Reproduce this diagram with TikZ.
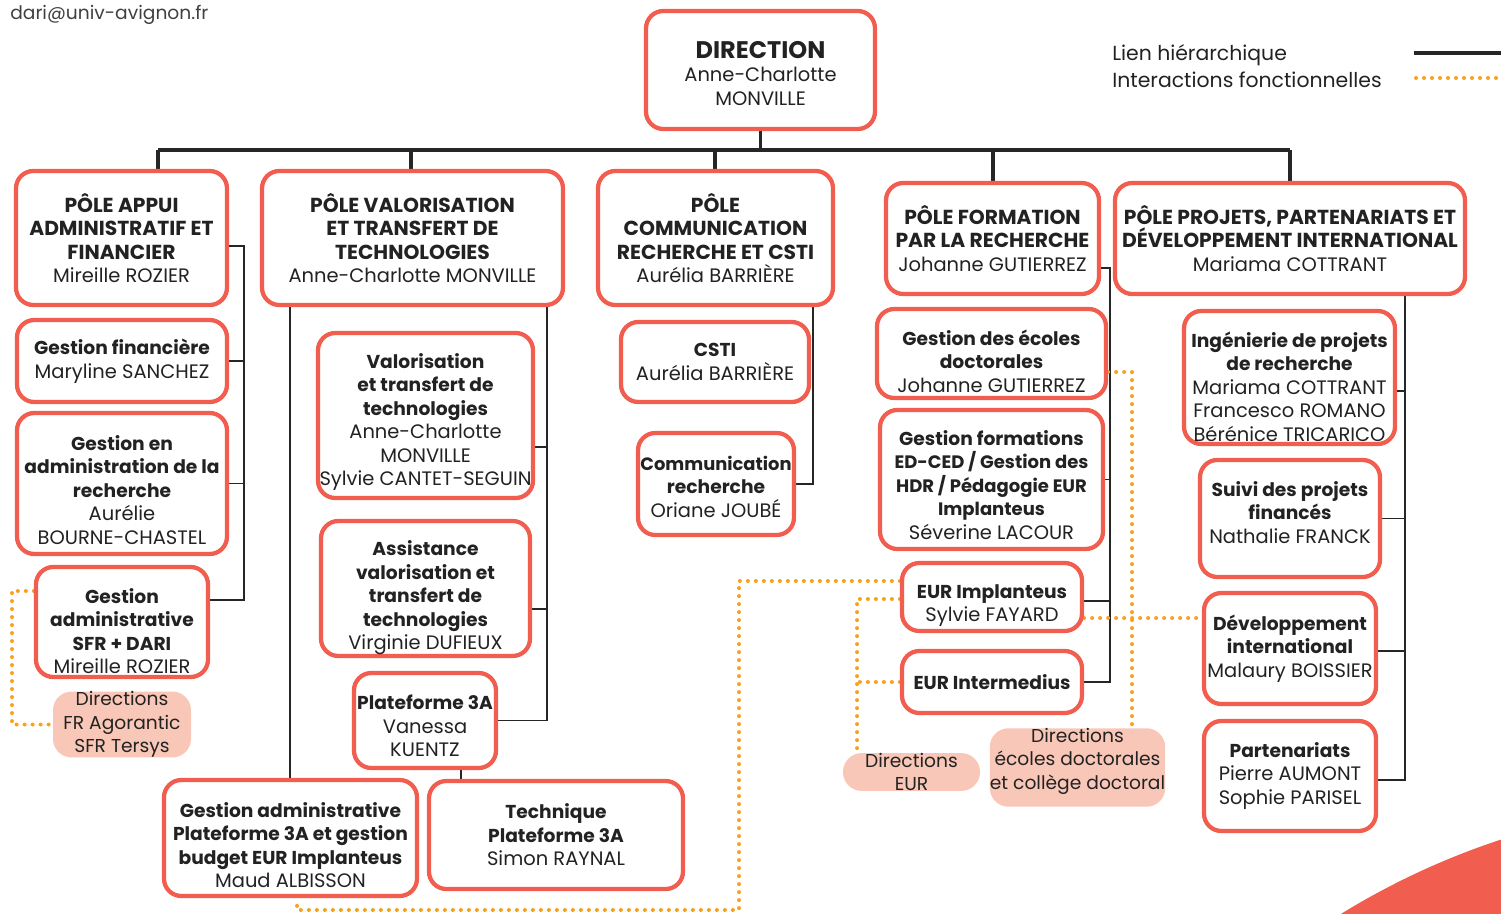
\documentclass[tikz,border=0pt]{standalone}
\usepackage{fontspec}
\setmainfont{Poppins}
\definecolor{bred}{RGB}{241,93,79}
\definecolor{bpink}{RGB}{249,199,183}
\definecolor{orng}{RGB}{249,161,27}
\definecolor{txt}{RGB}{34,34,34}
\definecolor{lk}{RGB}{38,38,38}
\pgfdeclarelayer{bg}
\pgfsetlayers{bg,main}
\newcommand\B[1]{{\fontsize{14}{17.6}\selectfont\bfseries #1}}
\newcommand\T[1]{{\fontsize{15.2}{17.6}\selectfont\bfseries #1}}
\newcommand\Sm[1]{{\fontsize{13.5}{16}\selectfont\bfseries #1}}
\newcommand\dn[1]{\rule{0pt}{#1pt}}
\newcommand\up[1]{\rule[-#1pt]{0pt}{0pt}}
\tikzset{
  box/.style={draw=bred, line width=3.2pt, rounded corners=13pt, fill=white, inner sep=0pt,
    align=center, text=txt, font=\fontsize{14.6}{17.6}\selectfont},
  pill/.style={fill=bpink, rounded corners=14pt, inner sep=0pt,
    align=center, text=txt, font=\fontsize{14}{17.6}\selectfont},
  plain/.style={inner sep=0pt, text=txt, font=\fontsize{15.3}{17.6}\selectfont},
  hier/.style={draw=lk, line width=1.4pt},
  bus/.style={draw=lk, line width=2.6pt},
  func/.style={draw=orng, line width=3pt, line cap=round, dash pattern=on 0pt off 6pt},
}
\newcommand\bx[6]{\node[box, minimum width={(#4-#2-4)*0.75pt}, minimum height={(#5-#3-4)*0.75pt}]
  (#1) at ({(#2+#4)/2},{(#3+#5)/2}) {#6};}
\newcommand\pl[6]{\node[pill, minimum width={(#4-#2)*0.75pt}, minimum height={(#5-#3)*0.75pt}]
  (#1) at ({(#2+#4)/2},{(#3+#5)/2}) {#6};}
\begin{document}
\begin{tikzpicture}[x=0.75pt,y=-0.75pt]
\useasboundingbox (0,0) rectangle (1501,913);
\begin{scope}
  \clip (0,0) rectangle (1501,913);
  \fill[bred] (1737,1558) circle [radius=756];
\end{scope}

% header texts
\node[plain, anchor=west, text=black!75, font=\fontsize{14}{17}\selectfont] (mail) at (10,15) {dari@univ-avignon.fr};
\node[plain, anchor=west] (lg1) at (1112,55) {Lien hiérarchique};
\node[plain, anchor=west] (lg2) at (1112,80) {Interactions fonctionnelles};
\coordinate (la1) at (1414,53); \coordinate (lb1) at (1501,53);
\coordinate (la2) at (1416,78); \coordinate (lb2) at (1501,78);

% boxes
\bx{dir}{644}{9}{877}{131}{\dn{18}{\fontsize{18}{18}\selectfont\bfseries DIRECTION}\\Anne-Charlotte\\MONVILLE}
\bx{p1}{14}{169}{229}{307}{\T{PÔLE APPUI}\\\T{ADMINISTRATIF ET}\\\T{FINANCIER}\\Mireille ROZIER}
\bx{p2}{260}{169}{565}{307}{\T{PÔLE VALORISATION}\\\T{ET TRANSFERT DE}\\\T{TECHNOLOGIES}\\Anne-Charlotte MONVILLE}
\bx{p3}{596}{169}{835}{307}{\T{PÔLE}\\\T{COMMUNICATION}\\\T{RECHERCHE ET CSTI}\\Aurélia BARRIÈRE}
\bx{p4}{884}{181}{1101}{296}{\T{PÔLE FORMATION}\\\T{PAR LA RECHERCHE}\\Johanne GUTIERREZ}
\bx{p5}{1113}{181}{1467}{296}{\T{PÔLE PROJETS, PARTENARIATS ET}\\\T{DÉVELOPPEMENT INTERNATIONAL}\\Mariama COTTRANT}

\bx{gf}{15}{318}{229}{404}{\B{Gestion financière}\\Maryline SANCHEZ}
\bx{gar}{15}{411}{229}{556}{\dn{21}\B{Gestion en}\\\B{administration de la}\\\B{recherche}\\Aurélie\\BOURNE-CHASTEL}
\bx{sfr}{34}{565}{210}{679}{\dn{25}\B{Gestion}\\\B{administrative}\\\B{SFR + DARI}\\Mireille ROZIER}
\pl{pa}{53}{692}{191}{757}{Directions\\FR Agorantic\\SFR Tersys}

\bx{val}{316}{331}{535}{500}{\dn{21}\B{Valorisation}\\\B{et transfert de}\\\B{technologies}\\Anne-Charlotte\\MONVILLE\\Sylvie CANTET-SEGUIN}
\bx{asv}{319}{519}{532}{658}{\dn{25}\B{Assistance}\\\B{valorisation et}\\\B{transfert de}\\\B{technologies}\\Virginie DUFIEUX}
\bx{pf}{352}{671}{498}{770}{\dn{19}\B{Plateforme 3A}\\Vanessa\\KUENTZ}
\bx{gap}{162}{778}{419}{898}{\dn{22}\B{Gestion administrative}\\\B{Plateforme 3A et gestion}\\\B{budget EUR Implanteus}\\Maud ALBISSON}
\bx{tech}{427}{779}{685}{891}{\B{Technique}\\\B{Plateforme 3A}\\Simon RAYNAL}

\bx{csti}{619}{320}{811}{404}{\B{CSTI}\\Aurélia BARRIÈRE}
\bx{cr}{636}{431}{796}{537}{\dn{15}{\fontsize{13.4}{17.6}\selectfont\bfseries Communication}\\\B{recherche}\\Oriane JOUBÉ}

\bx{ged}{875}{307}{1108}{400}{\dn{23}\B{Gestion des écoles}\\\B{doctorales}\\Johanne GUTIERREZ}
\bx{gfo}{878}{408}{1105}{551}{\dn{19}\B{Gestion formations}\\\Sm{ED-CED / Gestion des}\\\Sm{HDR / Pédagogie EUR}\\\Sm{Implanteus}\\Séverine LACOUR}
\bx{eimp}{900}{561}{1084}{633}{\dn{23}\B{EUR Implanteus}\\Sylvie FAYARD}
\bx{eint}{900}{649}{1084}{715}{\B{EUR Intermedius}}
\pl{pe}{843}{754}{980}{790}{Directions\\EUR}
\pl{pd}{990}{729}{1165}{806}{Directions\\écoles doctorales\\et collège doctoral\up{13}}

\bx{ing}{1182}{309}{1397}{446}{\dn{25}\B{Ingénierie de projets}\\\B{de recherche}\\Mariama COTTRANT\\Francesco ROMANO\\Bérénice TRICARICO}
\bx{suivi}{1198}{458}{1382}{579}{\B{Suivi des projets}\\\B{financés}\\Nathalie FRANCK\up{9}}
\bx{dev}{1202}{591}{1378}{706}{\B{Développement}\\\B{international}\\Malaury BOISSIER}
\bx{par}{1202}{719}{1378}{833}{\B{Partenariats}\\Pierre AUMONT\\Sophie PARISEL}

% connectors
\coordinate (b1) at (158,150); \coordinate (b2) at (411,150); \coordinate (b3) at (715,150);
\coordinate (b4) at (993,150); \coordinate (b5) at (1290,150);
\coordinate (c1) at (244,0); \coordinate (c2l) at (290,0); \coordinate (c2r) at (547,0);
\coordinate (c3) at (813,0); \coordinate (c4) at (1110,0); \coordinate (c5) at (1405,0);
\begin{pgfonlayer}{bg}
\draw[bus] (la1) -- (lb1);
\draw[func] (la2) -- (lb2);
\draw[bus] (dir.south) -- (dir.south |- b1);
\draw[bus] (b1) -- (b5);
\draw[bus] (b1) -- (p1.north -| b1);
\draw[bus] (b2) -- (p2.north -| b2);
\draw[bus] (b3) -- (p3.north -| b3);
\draw[bus] (b4) -- (p4.north -| b4);
\draw[bus] (b5) -- (p5.north -| b5);
% column 1
\draw[hier] (p1.east |- 0,246) -| (c1 |- 0,600) -- (sfr.east |- 0,600);
\draw[hier] (gf.east) -- (gf.east -| c1);
\draw[hier] (gar.east) -- (gar.east -| c1);
% column 2
\draw[hier] (p2.south -| c2l) -- (gap.north -| c2l);
\draw[hier] (p2.south -| c2r) |- (pf.east);
\draw[hier] (val.east |- 0,447) -- (c2r |- 0,447);
\draw[hier] (asv.east |- 0,609) -- (c2r |- 0,609);
\draw[hier] (pf.south -| 461,0) -- (tech.north -| 461,0);
% column 3
\draw[hier] (p3.south -| c3) |- (cr.east);
% column 4
\draw[hier] (p4.east |- 0,268) -| (eint.east -| c4) -- (eint.east);
\draw[hier] (gfo.east) -- (gfo.east -| c4);
\draw[hier] (eimp.east |- 0,601) -- (c4 |- 0,601);
% column 5
\draw[hier] (p5.south -| c5) |- (par.east |- 0,780);
\draw[hier] (ing.east |- 0,391) -- (c5 |- 0,391);
\draw[hier] (suivi.east) -- (suivi.east -| c5);
\draw[hier] (dev.east |- 0,651) -- (c5 |- 0,651);
% functional
\draw[func] (sfr.west |- 0,591) -| (pa.west -| 12,0) -- (pa.west);
\draw[func] (ged.east |- 0,372) -| (pd.north -| 1132,0);
\draw[func] (eimp.east |- 0,618) -- (dev.west |- 0,618);
\draw[func] (eimp.west |- 0,581) -| (739,910) -| (gap.south -| 297,0);
\draw[func] (eimp.west |- 0,599) -| (pe.north -| 857,0);
\draw[func] (eint.west) -- (eint.west -| 857,0);
\end{pgfonlayer}
\end{tikzpicture}
\end{document}
